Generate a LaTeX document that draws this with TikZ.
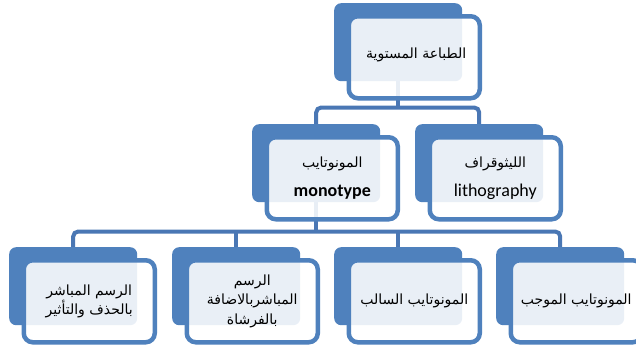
\documentclass[tikz,border=0pt]{standalone}
\usepackage{fontspec}
\setmainfont{Carlito}
\newfontfamily\latinfont{Carlito}
\newfontfamily\arabicfont[Script=Arabic]{DejaVu Sans}
\TeXXeTstate=1
\usetikzlibrary{calc}
\pgfdeclarelayer{background}
\pgfsetlayers{background,main}
\definecolor{boxblue}{HTML}{4F81BD}
\definecolor{connblue}{HTML}{4A77B4}
\tikzset{
  bluebox/.style={rectangle, fill=boxblue, draw=none, rounded corners=7pt,
    minimum width=128pt, minimum height=78pt, inner sep=0pt, anchor=north west},
  whitebox/.style={rectangle, fill=white, fill opacity=0.88, draw=boxblue, draw opacity=1,
    line width=4.5pt, rounded corners=9pt, minimum width=131pt, minimum height=82pt,
    inner sep=0pt, anchor=north west},
  conn/.style={draw=connblue, line width=4pt, rounded corners=5pt},
  txt/.style={align=center, text=black, inner sep=0pt,
    font=\arabicfont\fontsize{14}{19.5}\selectfont}
}
\begin{document}
\begin{tikzpicture}[x=1pt,y=-1pt]
\useasboundingbox (0,0) rectangle (636,351);
% blue back boxes
\node[bluebox] (topb) at (334,3) {};
\node[bluebox] (mlb) at (252,124) {};
\node[bluebox] (mrb) at (415,124) {};
\node[bluebox] (b1b) at (9,247) {};
\node[bluebox] (b2b) at (172,247) {};
\node[bluebox] (b3b) at (334,247) {};
\node[bluebox] (b4b) at (496,247) {};
% white front boxes
\node[whitebox] (topw) at ($(topb.north west)+(12.5,11)$) {};
\node[whitebox] (mlw) at ($(mlb.north west)+(12.5,11)$) {};
\node[whitebox] (mrw) at ($(mrb.north west)+(12.5,11)$) {};
\node[whitebox] (b1w) at ($(b1b.north west)+(12.5,11)$) {};
\node[whitebox] (b2w) at ($(b2b.north west)+(12.5,11)$) {};
\node[whitebox] (b3w) at ($(b3b.north west)+(12.5,11)$) {};
\node[whitebox] (b4w) at ($(b4b.north west)+(12.5,11)$) {};
% connectors
\coordinate (bar1) at (0,107.5);
\coordinate (bar2) at (0,231.5);
\begin{pgfonlayer}{background}
\fill[white] (0,0) rectangle (636,351);
\draw[conn] (topb.center) -- (topb.center |- bar1);
\draw[conn] (mlb.center) -- (mlb.center |- bar1) -- (mrb.center |- bar1) -- (mrb.center);
\draw[conn] (mlb.center) -- (mlb.center |- bar2);
\draw[conn] (b1b.center) -- (b1b.center |- bar2) -- (b4b.center |- bar2) -- (b4b.center);
\draw[conn] (b2b.center) -- (b2b.center |- bar2);
\draw[conn] (b3b.center) -- (b3b.center |- bar2);
\end{pgfonlayer}
% texts
\node[txt] (t0) at ($(topw.center)+(2,-2)$) {\beginR الطباعة المستوية\endR};
\node[txt] (t1) at (mlw.center) {\beginR المونوتايب\endR\\[10pt]{\latinfont\bfseries\fontsize{18}{20}\selectfont monotype}};
\node[txt] (t2) at (mrw.center) {\beginR الليثوقراف\endR\\[10pt]{\latinfont\fontsize{18}{20}\selectfont lithography}};
\node[txt] (t3) at (b1w.center) {\beginR الرسم المباشر\endR\\\beginR بالحذف والتأثير\endR};
\node[txt] (t4) at (b2w.center) {\beginR الرسم\endR\\\beginR المباشربالاضافة\endR\\\beginR بالفرشاة\endR};
\node[txt] (t5) at (b3w.center) {\beginR المونوتايب السالب\endR};
\node[txt] (t6) at (b4w.center) {\beginR المونوتايب الموجب\endR};
\end{tikzpicture}
\end{document}
